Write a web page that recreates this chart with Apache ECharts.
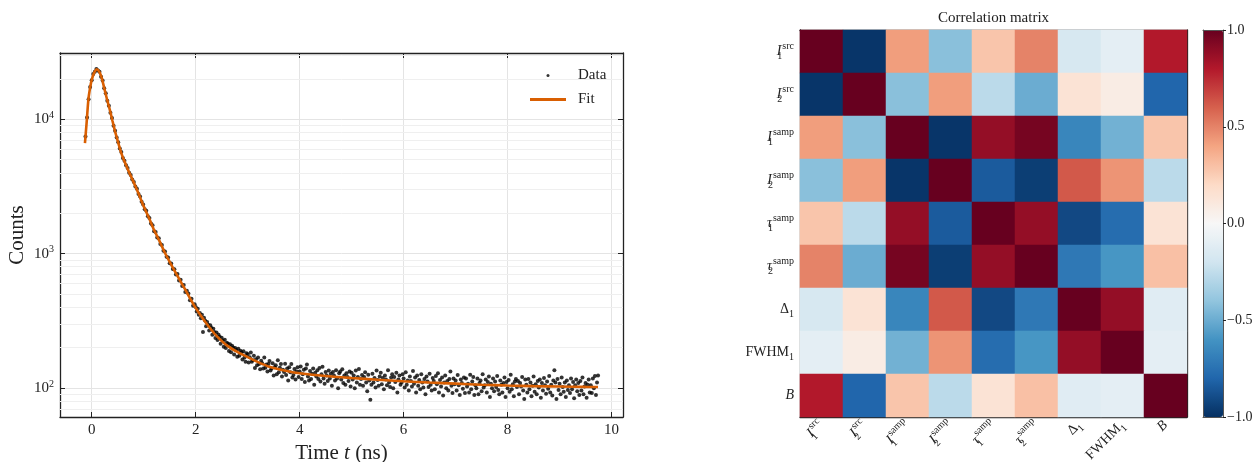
<!DOCTYPE html>
<html>
<head>
<meta charset="utf-8">
<title>Decay fit and correlation matrix</title>
<script src="https://cdn.jsdelivr.net/npm/echarts@6/dist/echarts.min.js"></script>
<style>
  html, body { margin: 0; padding: 0; background: #fff; }
  #chart { width: 1255px; height: 462px; }
</style>
</head>
<body>
<div id="chart"></div>
<script>
// measured counts, [time (ns), counts]
const dataPoints = [
  [-0.12,7450],[-0.09,10300],[-0.06,14100],[-0.03,17400],[0.00,19500],[0.03,21700],[0.06,22600],[0.09,23600],[0.12,23000],[0.15,22600],
  [0.18,20700],[0.21,19400],[0.24,17000],[0.27,15600],[0.30,13700],[0.33,12600],[0.36,11200],[0.39,10200],[0.42,8950],[0.45,8200],
  [0.48,7300],[0.51,6750],[0.54,6050],[0.57,5700],[0.60,5150],[0.63,4920],[0.66,4550],[0.69,4330],[0.72,4000],[0.75,3850],
  [0.78,3560],[0.81,3420],[0.84,3160],[0.87,3040],[0.90,2780],[0.93,2660],[0.96,2430],[0.99,2320],[1.02,2140],[1.05,2090],
  [1.08,1900],[1.11,1840],[1.14,1680],[1.17,1630],[1.20,1470],[1.23,1450],[1.26,1320],[1.29,1300],[1.32,1180],[1.35,1160],
  [1.38,1050],[1.41,1040],[1.44,950],[1.47,935],[1.50,850],[1.53,845],[1.56,770],[1.59,765],[1.62,700],[1.65,705],
  [1.68,632],[1.71,640],[1.74,575],[1.77,585],[1.80,520],[1.83,530],[1.86,505],[1.89,450],[1.92,462],[1.95,410],[1.98,420],
  [2.00,402],[2.02,371],[2.04,389],[2.06,352],[2.08,362],[2.10,331],[2.12,351],[2.14,262],[2.16,334],[2.18,318],
  [2.20,289],[2.22,311],[2.24,296],[2.26,268],[2.28,294],[2.30,281],[2.32,249],[2.34,276],[2.36,262],[2.38,236],
  [2.40,259],[2.42,228],[2.44,250],[2.46,241],[2.48,214],[2.50,237],[2.52,226],[2.54,203],[2.56,229],[2.58,199],
  [2.60,218],[2.62,214],[2.64,189],[2.66,212],[2.68,185],[2.70,207],[2.72,201],[2.74,178],[2.76,199],[2.78,192],
  [2.80,171],[2.82,196],[2.84,174],[2.86,190],[2.88,185],[2.90,163],[2.92,188],[2.94,169],[2.96,157],[2.98,182],
  [3.00,179],[3.02,155],[3.04,170],[3.06,184],[3.08,157],[3.10,161],[3.12,174],[3.14,141],[3.16,164],[3.18,148],
  [3.20,169],[3.22,151],[3.24,138],[3.26,160],[3.28,153],[3.30,140],[3.32,169],[3.34,142],[3.36,150],[3.38,133],
  [3.40,151],[3.42,159],[3.44,135],[3.46,140],[3.48,153],[3.50,124],[3.52,143],[3.54,148],[3.56,127],[3.58,161],
  [3.60,131],[3.62,142],[3.64,151],[3.66,122],[3.68,137],[3.70,132],[3.72,152],[3.74,125],[3.76,140],[3.78,114],
  [3.80,143],[3.82,131],[3.84,151],[3.86,120],[3.88,125],[3.90,139],[3.92,116],[3.94,133],[3.96,143],[3.98,121],
  [4.00,133],[4.02,145],[4.04,117],[4.06,127],[4.08,137],[4.10,111],[4.12,140],[4.14,150],[4.16,122],[4.18,114],
  [4.20,134],[4.22,117],[4.24,128],[4.26,140],[4.28,106],[4.30,130],[4.32,122],[4.34,136],[4.36,117],[4.38,141],
  [4.40,112],[4.42,127],[4.44,144],[4.46,118],[4.48,108],[4.50,132],[4.52,124],[4.54,113],[4.56,135],[4.58,118],
  [4.60,128],[4.62,104],[4.64,132],[4.66,124],[4.68,114],[4.70,136],[4.72,118],[4.74,100],[4.76,129],[4.78,133],
  [4.80,116],[4.82,138],[4.84,109],[4.86,124],[4.88,106],[4.90,129],[4.92,121],[4.94,113],[4.96,133],[4.98,103],
  [5.00,130],[5.02,116],[5.04,124],[5.06,100],[5.08,135],[5.10,110],[5.12,121],[5.14,139],[5.16,106],[5.18,117],
  [5.20,125],[5.22,104],[5.24,121],[5.26,131],[5.28,110],[5.30,95],[5.32,126],[5.34,114],[5.36,82],[5.38,106],
  [5.40,128],[5.42,110],[5.44,119],[5.46,101],[5.48,135],[5.50,115],[5.52,104],[5.54,122],[5.56,130],[5.58,107],
  [5.60,119],[5.62,98],[5.64,124],[5.66,116],[5.68,105],[5.70,136],[5.72,110],[5.74,102],[5.76,120],[5.78,127],
  [5.80,100],[5.82,121],[5.84,111],[5.86,130],[5.88,93],[5.90,116],[5.92,124],[5.94,106],[5.96,110],[5.98,127],
  [6.00,118],[6.02,101],[6.04,131],[6.06,106],[6.08,114],[6.10,96],[6.12,122],[6.14,113],[6.16,103],[6.18,134],
  [6.20,108],[6.22,120],[6.24,93],[6.26,124],[6.28,104],[6.30,115],[6.32,98],[6.34,127],[6.36,110],[6.38,101],
  [6.40,117],[6.42,90],[6.44,122],[6.46,112],[6.48,102],[6.50,128],[6.52,106],[6.54,96],[6.56,119],[6.58,113],
  [6.60,98],[6.62,123],[6.64,107],[6.66,129],[6.68,93],[6.70,115],[6.72,103],[6.74,120],[6.76,88],[6.78,110],
  [6.80,124],[6.82,100],[6.84,113],[6.86,96],[6.88,117],[6.90,133],[6.92,104],[6.94,92],[6.96,118],[6.98,107],
  [7.00,114],[7.02,96],[7.04,125],[7.06,105],[7.08,89],[7.10,116],[7.12,109],[7.14,99],[7.16,120],[7.18,92],
  [7.20,118],[7.22,103],[7.24,108],[7.26,93],[7.28,126],[7.30,98],[7.32,112],[7.34,121],[7.36,89],[7.38,105],
  [7.40,100],[7.42,118],[7.44,90],[7.46,109],[7.48,114],[7.50,95],[7.52,127],[7.54,101],[7.56,105],[7.58,116],
  [7.60,93],[7.62,111],[7.64,122],[7.66,86],[7.68,108],[7.70,100],[7.72,118],[7.74,95],[7.76,112],[7.78,102],
  [7.80,123],[7.82,97],[7.84,90],[7.86,114],[7.88,106],[7.90,93],[7.92,109],[7.94,120],[7.96,86],[7.98,111],
  [8.00,100],[8.02,115],[8.04,94],[8.06,126],[8.08,98],[8.10,107],[8.12,87],[8.14,112],[8.16,117],[8.18,102],
  [8.20,113],[8.22,90],[8.24,109],[8.26,103],[8.28,121],[8.30,96],[8.32,83],[8.34,116],[8.36,106],[8.38,93],
  [8.40,117],[8.42,98],[8.44,110],[8.46,87],[8.48,104],[8.50,122],[8.52,94],[8.54,107],[8.56,90],[8.58,113],
  [8.60,101],[8.62,116],[8.64,85],[8.66,109],[8.68,96],[8.70,119],[8.72,105],[8.74,91],[8.76,112],[8.78,99],
  [8.80,123],[8.82,93],[8.84,106],[8.86,88],[8.88,114],[8.90,136],[8.92,110],[8.94,83],[8.96,117],[8.98,97],
  [9.00,108],[9.02,90],[9.04,120],[9.06,102],[9.08,94],[9.10,110],[9.12,86],[9.14,114],[9.16,97],[9.18,105],
  [9.20,92],[9.22,118],[9.24,98],[9.26,111],[9.28,84],[9.30,105],[9.32,116],[9.34,95],[9.36,109],[9.38,89],
  [9.40,113],[9.42,96],[9.44,120],[9.46,90],[9.48,103],[9.50,109],[9.52,85],[9.54,106],[9.56,116],[9.58,93],
  [9.60,105],[9.62,92],[9.64,118],[9.66,100],[9.68,123],[9.70,89],[9.72,110],[9.74,124]
]

// fitted model curve
const fitTime = [-0.13, -0.1, -0.065, -0.03, 0, 0.05, 0.1, 0.15, 0.2, 0.25, 0.3, 0.35, 0.4, 0.45, 0.5, 0.55, 0.6, 0.7, 0.8, 0.9,
  1.0, 1.1, 1.2, 1.3, 1.4, 1.5, 1.6, 1.7, 1.8, 1.9, 2.0, 2.1, 2.2, 2.3, 2.4, 2.6, 2.8, 3.0, 3.2, 3.4, 3.6, 3.8, 4.0,
  4.5, 5.0, 5.5, 6.0, 6.5, 7.0, 7.5, 8.0, 8.5, 9.0, 9.5, 9.74]
const fitCounts = [6640, 9200, 13900, 17200, 19600, 22300, 23500, 22400, 19800, 16500, 13800, 11700, 9700, 8100, 6900, 5900, 5200, 4200, 3450, 2800,
  2250, 1850, 1500, 1250, 1030, 870, 740, 630, 540, 460, 395, 345, 305, 272, 245, 208, 186, 170, 156, 145, 138, 133, 129,
  123, 119, 115.5, 112.5, 110, 108, 106, 104.5, 103.5, 102.8, 102.2, 102]

// minor log grid lines
const minorGridCounts = [70, 80, 90, 200, 300, 400, 500, 600, 700, 800, 900,
  2000, 3000, 4000, 5000, 6000, 7000, 8000, 9000, 20000, 30000]

// fit parameters (rich text labels)
const paramLabels = [
  '{it|I}{sub|1}{sup|src}',
  '{it|I}{sub|2}{sup|src}',
  '{it|I}{sub|1}{sup|samp}',
  '{it|I}{sub|2}{sup|samp}',
  '{it|τ}{sub|1}{sup|samp}',
  '{it|τ}{sub|2}{sup|samp}',
  '{rm|Δ}{sub2|1}',
  '{rm|FWHM}{sub2|1}',
  '{it|B}'
]

const corrMatrix = [
  [1.00, -0.98, 0.42, -0.42, 0.28, 0.50, -0.17, -0.10, 0.80],
  [-0.98, 1.00, -0.42, 0.42, -0.27, -0.50, 0.14, 0.08, -0.80],
  [0.42, -0.42, 1.00, -0.98, 0.88, 0.96, -0.66, -0.48, 0.28],
  [-0.42, 0.42, -0.98, 1.00, -0.84, -0.95, 0.62, 0.45, -0.27],
  [0.28, -0.27, 0.88, -0.84, 1.00, 0.88, -0.91, -0.77, 0.14],
  [0.50, -0.50, 0.96, -0.95, 0.88, 1.00, -0.72, -0.59, 0.30],
  [-0.17, 0.14, -0.66, 0.62, -0.91, -0.72, 1.00, 0.88, -0.12],
  [-0.10, 0.08, -0.48, 0.45, -0.77, -0.59, 0.88, 1.00, -0.10],
  [0.80, -0.80, 0.28, -0.27, 0.14, 0.30, -0.12, -0.10, 1.00]
]

// matplotlib RdBu, from -1 to 1
const rdbu = ['#053061', '#2166ac', '#4393c3', '#92c5de', '#d1e5f0', '#f7f7f7',
  '#fddbc7', '#f4a582', '#d6604d', '#b2182b', '#67001f']

const SERIF = '"Liberation Serif", "DejaVu Serif", serif'
const INK = '#222'
const axisLine = { show: true, onZero: false, lineStyle: { color: INK, width: 1.3 } }
const barLine = { show: true, onZero: false, lineStyle: { color: '#555', width: 1 } }
const tickIn = { show: true, inside: true, length: 5, lineStyle: { color: INK, width: 1 } }

const paramRich = {
  it: { fontFamily: SERIF, fontStyle: 'italic', fontSize: 14, lineHeight: 20, color: INK },
  rm: { fontFamily: SERIF, fontSize: 14, lineHeight: 20, color: INK },
  sub: { fontFamily: SERIF, fontSize: 10, lineHeight: 20, verticalAlign: 'bottom', width: 1, color: INK },
  sub2: { fontFamily: SERIF, fontSize: 10, lineHeight: 20, verticalAlign: 'bottom', color: INK },
  sup: { fontFamily: SERIF, fontSize: 10, lineHeight: 20, verticalAlign: 'top', color: INK }
}

const heatData = []
corrMatrix.forEach((row, i) => {
  row.forEach((v, j) => {
    heatData.push([j, i, v])
  })
})

const chart = echarts.init(document.getElementById('chart'))

const option = {
  animation: false,
  backgroundColor: '#fff',
  textStyle: { fontFamily: SERIF },
  grid: [
    { left: 60, top: 53, width: 563, height: 364, outerBoundsMode: 'none' },
    { left: 800, top: 30, width: 387, height: 387, outerBoundsMode: 'none' },
    { left: 1203, top: 30, width: 20, height: 387, outerBoundsMode: 'none' }
  ],
  legend: {
    data: [{ name: 'Data', icon: 'circle' }, { name: 'Fit', icon: 'rect' }],
    orient: 'vertical',
    left: 530,
    top: 68,
    padding: 0,
    itemWidth: 36,
    itemHeight: 3,
    itemGap: 9,
    selectedMode: false,
    textStyle: { fontFamily: SERIF, fontSize: 15, color: INK, padding: [0, 0, 0, 7] }
  },
  visualMap: {
    type: 'continuous',
    seriesIndex: 2,
    min: -1,
    max: 1,
    calculable: false,
    hoverLink: false,
    orient: 'vertical',
    left: 1203,
    top: 30,
    padding: 0,
    itemWidth: 20,
    itemHeight: 387,
    inRange: { color: rdbu }
  },
  xAxis: [
    {
      gridIndex: 0, type: 'value', min: -0.61, max: 10.22, splitNumber: 5,
      axisLine: axisLine, axisTick: tickIn,
      axisLabel: {
        fontFamily: SERIF, fontSize: 15, color: INK, margin: 6,
        formatter: (v) => Math.abs(v / 2 - Math.round(v / 2)) < 1e-6 ? String(Math.round(v)) : ''
      },
      splitLine: { show: true, lineStyle: { color: '#e4e4e4', width: 1 } },
      name: 'Time {it|t} (ns)', nameLocation: 'middle', nameGap: 21,
      nameTextStyle: {
        fontFamily: SERIF, fontSize: 21, color: INK,
        rich: { it: { fontFamily: SERIF, fontSize: 21, fontStyle: 'italic', color: INK } }
      }
    },
    {
      gridIndex: 0, type: 'value', position: 'top', min: -0.61, max: 10.22, splitNumber: 5,
      axisLine: axisLine, axisTick: tickIn, axisLabel: { show: false }, splitLine: { show: false }
    },
    {
      gridIndex: 1, type: 'category', data: paramLabels,
      axisLine: axisLine, axisTick: Object.assign({ alignWithLabel: true }, tickIn),
      axisLabel: { rotate: 45, margin: 6, interval: 0, rich: paramRich },
      splitLine: { show: false }
    },
    {
      gridIndex: 1, type: 'category', position: 'top', data: paramLabels,
      axisLine: axisLine, axisTick: Object.assign({ alignWithLabel: true }, tickIn),
      axisLabel: { show: false },
      name: 'Correlation matrix', nameLocation: 'middle', nameGap: 4,
      nameTextStyle: { fontFamily: SERIF, fontSize: 15, color: INK }
    },
    {
      gridIndex: 2, type: 'value', min: 0, max: 1, z: 10,
      axisLine: barLine, axisTick: { show: false }, axisLabel: { show: false }, splitLine: { show: false }
    },
    {
      gridIndex: 2, type: 'value', position: 'top', min: 0, max: 1, z: 10,
      axisLine: barLine, axisTick: { show: false }, axisLabel: { show: false }, splitLine: { show: false }
    }
  ],
  yAxis: [
    {
      gridIndex: 0, type: 'log', logBase: 10, min: 61, max: 31100,
      axisLine: axisLine, axisTick: tickIn,
      axisLabel: {
        fontFamily: SERIF, fontSize: 15, color: INK, margin: 6, lineHeight: 18,
        formatter: (v) => {
          const k = Math.log10(v)
          return Math.abs(k - Math.round(k)) < 1e-6 ? '10{sup|' + Math.round(k) + '}' : ''
        },
        rich: { sup: { fontFamily: SERIF, fontSize: 10, lineHeight: 18, verticalAlign: 'top', color: INK } }
      },
      splitLine: { show: true, lineStyle: { color: '#e4e4e4', width: 1 } },
      name: 'Counts', nameLocation: 'middle', nameGap: 32,
      nameTextStyle: { fontFamily: SERIF, fontSize: 21, color: INK }
    },
    {
      gridIndex: 0, type: 'log', logBase: 10, min: 61, max: 31100, position: 'right',
      axisLine: axisLine, axisTick: tickIn, axisLabel: { show: false }, splitLine: { show: false }
    },
    {
      gridIndex: 1, type: 'category', data: paramLabels, inverse: true,
      axisLine: axisLine, axisTick: Object.assign({ alignWithLabel: true }, tickIn),
      axisLabel: { margin: 6, interval: 0, rich: paramRich },
      splitLine: { show: false }
    },
    {
      gridIndex: 1, type: 'category', data: paramLabels, inverse: true, position: 'right',
      axisLine: axisLine, axisTick: Object.assign({ alignWithLabel: true }, tickIn),
      axisLabel: { show: false }
    },
    {
      gridIndex: 2, type: 'value', min: -1, max: 1, interval: 0.5, position: 'right', z: 10,
      axisLine: barLine,
      axisTick: { show: true, inside: false, length: 3, lineStyle: { color: INK } },
      axisLabel: {
        fontFamily: SERIF, fontSize: 14, color: INK, margin: 4,
        formatter: (v) => v.toFixed(1).replace('-', '\u2212')
      },
      splitLine: { show: false }
    },
    {
      gridIndex: 2, type: 'value', min: -1, max: 1, position: 'left', z: 10,
      axisLine: barLine, axisTick: { show: false }, axisLabel: { show: false }, splitLine: { show: false }
    }
  ],
  series: [
    {
      name: 'Data',
      type: 'scatter',
      xAxisIndex: 0,
      yAxisIndex: 0,
      symbol: 'circle',
      symbolSize: 4,
      itemStyle: { color: '#000' },
      z: 3,
      data: dataPoints
    },
    {
      name: 'Fit',
      type: 'line',
      xAxisIndex: 0,
      yAxisIndex: 0,
      symbol: 'none',
      showSymbol: false,
      smooth: 0.2,
      lineStyle: { color: '#d95f02', width: 2.6 },
      itemStyle: { color: '#d95f02' },
      z: 4,
      data: fitTime.map((t, i) => [t, fitCounts[i]]),
      markLine: {
        silent: true,
        z: 1,
        symbol: ['none', 'none'],
        label: { show: false },
        lineStyle: { color: '#efefef', width: 1, type: 'solid' },
        emphasis: { disabled: true },
        data: minorGridCounts.map((v) => ({ yAxis: v }))
      }
    },
    {
      name: 'corr',
      type: 'heatmap',
      xAxisIndex: 2,
      yAxisIndex: 2,
      data: heatData,
      emphasis: { disabled: true }
    }
  ]
}

chart.setOption(option)
</script>
</body>
</html>
